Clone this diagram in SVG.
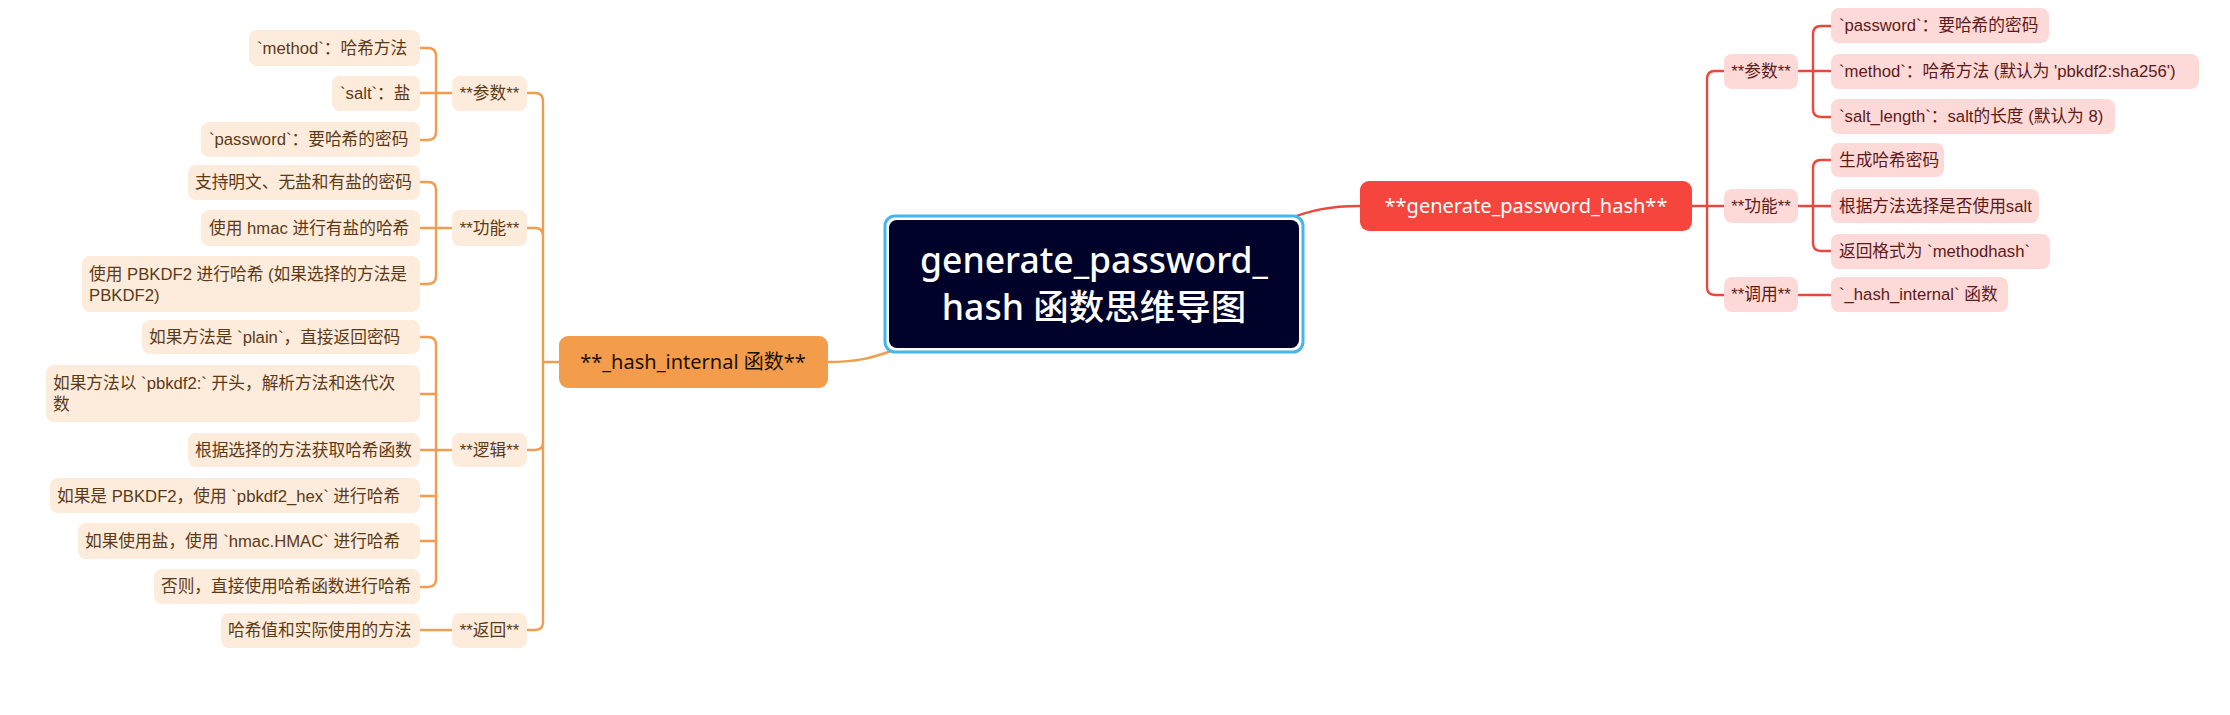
<svg xmlns="http://www.w3.org/2000/svg" width="2230" height="715" viewBox="0 0 2230 715">
<style>
text{font-family:"Liberation Sans","Noto Sans CJK SC",sans-serif;font-size:16.7px}
.big{font-family:"Noto Sans","Noto Sans CJK SC",sans-serif}
.lo rect{fill:#fdebdb}
.lo text{fill:#5c3a17}
.ro rect{fill:#fdd9d8}
.ro text{fill:#5e1a17}
.mid text{text-anchor:middle}
.ol{fill:none;stroke:#f19d4f;stroke-width:2.4}
.rl{fill:none;stroke:#e8493f;stroke-width:2.4}
</style>
<rect width="2230" height="715" fill="#fff"/>
<g id="connectors">
<path class="ol" d="M420,48 H428 Q436,48 436,56 V132 Q436,140 428,140 H420 M420,93 H452"/>
<path class="ol" d="M420,182 H428 Q436,182 436,190 V276 Q436,284 428,284 H420 M420,228 H452"/>
<path class="ol" d="M420,337 H428 Q436,337 436,345 V579 Q436,587 428,587 H420 M420,394 H436 M420,496 H436 M420,541 H436 M420,450 H452"/>
<path class="ol" d="M420,630 H452"/>
<path class="ol" stroke-width="2.8" d="M527,93 H535 Q543,93 543,101 V622 Q543,630 535,630 H527 M527,228 H535 Q543,228 543,236 M527,450 H535 Q543,450 543,442 M543,362 H559"/>
<path class="ol" stroke-width="3.2" d="M828,362 C858,362 872,358 897,349"/>
<path class="rl" stroke-width="3.2" d="M1283,221 C1310,210 1330,206 1360,206"/>
<path class="rl" stroke-width="2.8" d="M1692,206 H1724 M1724,71 H1715 Q1707,71 1707,79 V287 Q1707,295 1715,295 H1724"/>
<path class="rl" d="M1798,71 H1831 M1831,26 H1821 Q1813,26 1813,34 V109 Q1813,117 1821,117 H1831"/>
<path class="rl" d="M1798,206 H1831 M1831,160 H1821 Q1813,160 1813,168 V243 Q1813,251 1821,251 H1831"/>
<path class="rl" d="M1798,295 H1831"/>
</g>
<g id="center">
<rect x="885" y="216" width="418" height="136" rx="10" fill="#fff" stroke="#45b5ec" stroke-width="3"/>
<rect x="889" y="220" width="410" height="128" rx="8" fill="#000229"/>
<text class="big" x="1094" y="273" text-anchor="middle" fill="#fff" style="font-size:35.5px;font-weight:500">generate_password_</text>
<text class="big" x="1094" y="320" text-anchor="middle" fill="#fff" style="font-size:35.5px;font-weight:500">hash 函数思维导图</text>
</g>
<g id="hash_internal">
<rect x="559" y="336" width="269" height="52" rx="9" fill="#f39c4b"/>
<text class="big" x="693" y="369" text-anchor="middle" fill="#1d1206" style="font-size:20px">**_hash_internal 函数**</text>
</g>
<g id="gph">
<rect x="1360" y="181" width="332" height="50" rx="9" fill="#f5453d"/>
<text class="big" x="1526" y="213" text-anchor="middle" fill="#fff" style="font-size:20px">**generate_password_hash**</text>
</g>
<g class="lo mid">
<g id="l_params"><rect x="452" y="76" width="75" height="35" rx="8"/><text x="489.5" y="99">**参数**</text></g>
<g id="l_func"><rect x="452" y="210" width="75" height="36" rx="8"/><text x="489.5" y="234">**功能**</text></g>
<g id="l_logic"><rect x="452" y="433" width="75" height="34" rx="8"/><text x="489.5" y="456">**逻辑**</text></g>
<g id="l_ret"><rect x="452" y="613" width="75" height="35" rx="8"/><text x="489.5" y="636">**返回**</text></g>
</g>
<g class="lo">
<g id="l1"><rect x="249" y="30" width="171" height="36" rx="8"/><text x="257" y="54">`method`：哈希方法</text></g>
<g id="l2"><rect x="332" y="76" width="88" height="35" rx="8"/><text x="340" y="99">`salt`：盐</text></g>
<g id="l3"><rect x="201" y="122" width="219" height="35" rx="8"/><text x="209" y="145">`password`：要哈希的密码</text></g>
<g id="l4"><rect x="188" y="165" width="232" height="35" rx="8"/><text x="195" y="188">支持明文、无盐和有盐的密码</text></g>
<g id="l5"><rect x="201" y="210" width="219" height="36" rx="8"/><text x="209" y="234">使用 hmac 进行有盐的哈希</text></g>
<g id="l6"><rect x="82" y="256" width="338" height="56" rx="8"/><text x="89" y="280">使用 PBKDF2 进行哈希 (如果选择的方法是</text><text x="89" y="301">PBKDF2)</text></g>
<g id="l7"><rect x="142" y="320" width="278" height="34" rx="8"/><text x="149" y="343">如果方法是 `plain`，直接返回密码</text></g>
<g id="l8"><rect x="46" y="365" width="374" height="57" rx="8"/><text x="53" y="389">如果方法以 `pbkdf2:` 开头，解析方法和迭代次</text><text x="53" y="410">数</text></g>
<g id="l9"><rect x="188" y="433" width="232" height="34" rx="8"/><text x="195" y="456">根据选择的方法获取哈希函数</text></g>
<g id="l10"><rect x="50" y="478" width="370" height="35" rx="8"/><text x="57" y="502">如果是 PBKDF2，使用 `pbkdf2_hex` 进行哈希</text></g>
<g id="l11"><rect x="78" y="523" width="342" height="36" rx="8"/><text x="85" y="547">如果使用盐，使用 `hmac.HMAC` 进行哈希</text></g>
<g id="l12"><rect x="154" y="569" width="266" height="35" rx="8"/><text x="161" y="592">否则，直接使用哈希函数进行哈希</text></g>
<g id="l13"><rect x="221" y="613" width="199" height="35" rx="8"/><text x="228" y="636">哈希值和实际使用的方法</text></g>
</g>
<g class="ro mid">
<g id="r_params"><rect x="1724" y="54" width="74" height="35" rx="8"/><text x="1761" y="77">**参数**</text></g>
<g id="r_func"><rect x="1724" y="189" width="74" height="34" rx="8"/><text x="1761" y="212">**功能**</text></g>
<g id="r_call"><rect x="1724" y="277" width="74" height="35" rx="8"/><text x="1761" y="300">**调用**</text></g>
</g>
<g class="ro">
<g id="r1"><rect x="1831" y="8" width="218" height="35" rx="8"/><text x="1839" y="31">`password`：要哈希的密码</text></g>
<g id="r2"><rect x="1831" y="54" width="368" height="35" rx="8"/><text x="1839" y="77">`method`：哈希方法 (默认为 'pbkdf2:sha256')</text></g>
<g id="r3"><rect x="1831" y="99" width="284" height="35" rx="8"/><text x="1839" y="122">`salt_length`：salt的长度 (默认为 8)</text></g>
<g id="r4"><rect x="1831" y="143" width="113" height="34" rx="8"/><text x="1839" y="166">生成哈希密码</text></g>
<g id="r5"><rect x="1831" y="189" width="208" height="34" rx="8"/><text x="1839" y="212">根据方法选择是否使用salt</text></g>
<g id="r6"><rect x="1831" y="234" width="219" height="35" rx="8"/><text x="1839" y="257">返回格式为 `methodhash`</text></g>
<g id="r7"><rect x="1831" y="277" width="177" height="35" rx="8"/><text x="1839" y="300">`_hash_internal` 函数</text></g>
</g>
</svg>
